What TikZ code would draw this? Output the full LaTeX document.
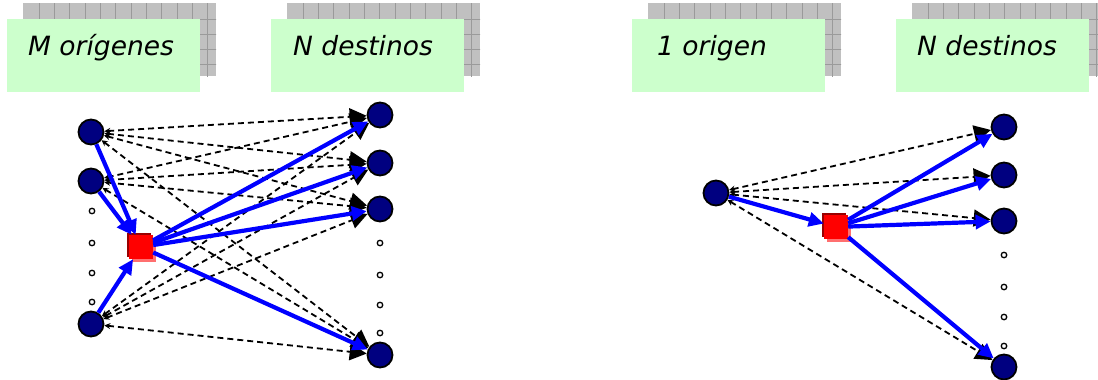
\documentclass[tikz,border=0pt]{standalone}
\usepackage{fontspec}
\setmainfont{DejaVu Sans}
\usetikzlibrary{arrows.meta,shadows,calc}
\definecolor{labelgreen}{HTML}{CCFFCC}
\definecolor{gridgray}{HTML}{C0C0C0}
\definecolor{gridline}{HTML}{9A9A9A}
\definecolor{nodenavy}{HTML}{000080}
\definecolor{sqdark}{HTML}{990000}
\definecolor{sqpink}{HTML}{FF6F6F}
\begin{document}
\begin{tikzpicture}[x=1pt,y=-1pt,
  gridcard/.style={anchor=north west, inner sep=0pt, minimum width=193pt,
    minimum height=73pt, fill=gridgray,
    path picture={
      \foreach \k in {0,...,11}
        \draw[gridline, line width=0.7pt]
          ($(path picture bounding box.north west)+(16pt+\k*15.3pt,0pt)$) -- ++(0pt,-80pt);
      \foreach \k in {0,...,3}
        \draw[gridline, line width=0.7pt]
          ($(path picture bounding box.north west)+(0pt,-16pt-\k*15pt)$) -- ++(200pt,0pt);
    }},
  greencard/.style={anchor=north west, inner sep=0pt, minimum width=193pt,
    minimum height=73pt, fill=labelgreen},
  labeltext/.style={anchor=base west, inner sep=0pt,
    font=\fontsize{26.5}{30}\selectfont\itshape},
  vtx/.style={circle, draw=black, line width=1.8pt, fill=nodenavy,
    minimum size=25pt, inner sep=0pt},
  gapdot/.style={circle, draw=black, line width=1.3pt, fill=white,
    minimum size=5.5pt, inner sep=0pt},
  hub/.style={rectangle, fill=red, minimum size=24pt, inner sep=0pt,
    general shadow={fill=sqdark, shadow xshift=-2pt, shadow yshift=2pt},
    general shadow={fill=sqpink, shadow xshift=3pt, shadow yshift=-3pt}},
  dashedge/.style={draw=black, line width=1.8pt, dash pattern=on 6pt off 4pt,
    arrows={Stealth[length=6pt,width=6pt]-Triangle[length=17pt,width=17pt]}},
  blueedge/.style={draw=blue, line width=4.2pt,
    arrows={-Triangle[length=15pt,width=14pt]}}
]
\useasboundingbox (0,0) rectangle (1098,380);

% label cards
\node[gridcard] (g1) at (23,3) {};
\node[greencard] (c1) at (7,19) {};
\node[labeltext] (t1) at (28,55) {M orígenes};
\node[gridcard] (g2) at (287,3) {};
\node[greencard] (c2) at (271,19) {};
\node[labeltext] (t2) at (293,55) {N destinos};
\node[gridcard] (g3) at (648,3) {};
\node[greencard] (c3) at (632,19) {};
\node[labeltext] (t3) at (657,55) {1 origen};
\node[gridcard] (g4) at (912,3) {};
\node[greencard] (c4) at (896,19) {};
\node[labeltext] (t4) at (917,55) {N destinos};

% M origins, N destinations
\node[vtx] (a1) at (91,132) {};
\node[vtx] (a2) at (91,181) {};
\node[vtx] (a3) at (91,324) {};
\foreach \y [count=\i] in {211,243,273,302} \node[gapdot] (ad\i) at (92,\y) {};
\node[hub] (h1) at (141,247) {};
\node[vtx] (b1) at (380,115) {};
\node[vtx] (b2) at (380,163) {};
\node[vtx] (b3) at (380,209) {};
\node[vtx] (b4) at (380,355) {};
\foreach \y [count=\i] in {243,275,305,333} \node[gapdot] (bd\i) at (380,\y) {};

\foreach \s in {a1,a2,a3}
  \foreach \t in {b1,b2,b3,b4}
    \draw[dashedge] (\s) -- (\t);
\foreach \s in {a1,a2,a3} \draw[blueedge] (\s) -- (h1);
\foreach \t in {b1,b2,b3,b4} \draw[blueedge] (h1) -- (\t);

% 1 origin, N destinations
\node[vtx] (o) at (716,193) {};
\node[hub] (h2) at (836,227) {};
\node[vtx] (d1) at (1004,127) {};
\node[vtx] (d2) at (1004,175) {};
\node[vtx] (d3) at (1004,221) {};
\node[vtx] (d4) at (1004,367) {};
\foreach \y [count=\i] in {255,287,317,346} \node[gapdot] (dd\i) at (1004,\y) {};

\foreach \t in {d1,d2,d3,d4} \draw[dashedge] (o) -- (\t);
\draw[blueedge] (o) -- (h2);
\foreach \t in {d1,d2,d3,d4} \draw[blueedge] (h2) -- (\t);
\end{tikzpicture}
\end{document}
